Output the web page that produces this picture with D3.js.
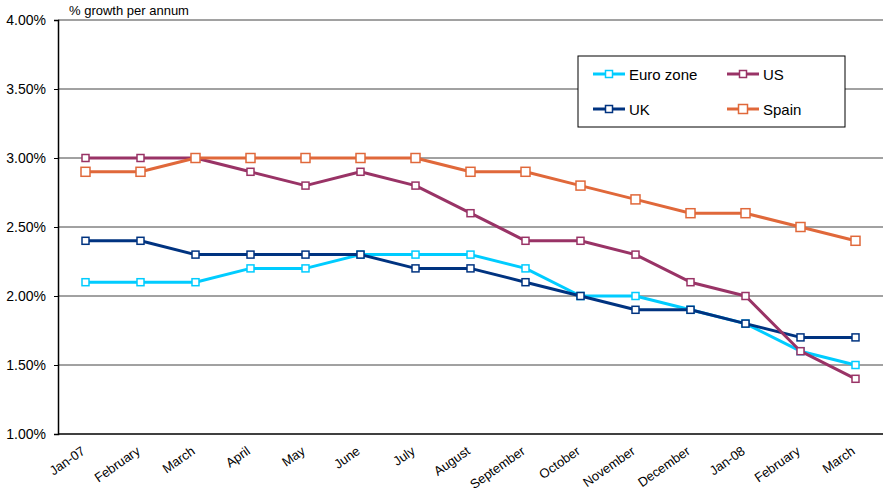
<!DOCTYPE html>
<html>
<head>
<meta charset="utf-8">
<script src="https://cdn.jsdelivr.net/npm/d3@7"></script>
<style>
  html, body { margin: 0; padding: 0; background: #fff; }
  svg { display: block; font-family: "Liberation Sans", Arial, sans-serif; }
</style>
</head>
<body>
<svg id="chart" width="883" height="498"></svg>
<script>
// Inflation, % growth per annum, Jan-07 to March 2008
const months = ["Jan-07", "February", "March", "April", "May", "June", "July", "August",
  "September", "October", "November", "December", "Jan-08", "February ", "March "];
const euroZone = [2.1, 2.1, 2.1, 2.2, 2.2, 2.3, 2.3, 2.3, 2.2, 2.0, 2.0, 1.9, 1.8, 1.6, 1.5];
const uk       = [2.4, 2.4, 2.3, 2.3, 2.3, 2.3, 2.2, 2.2, 2.1, 2.0, 1.9, 1.9, 1.8, 1.7, 1.7];
const us       = [3.0, 3.0, 3.0, 2.9, 2.8, 2.9, 2.8, 2.6, 2.4, 2.4, 2.3, 2.1, 2.0, 1.6, 1.4];
const spain    = [2.9, 2.9, 3.0, 3.0, 3.0, 3.0, 3.0, 2.9, 2.9, 2.8, 2.7, 2.6, 2.6, 2.5, 2.4];
const yTicks = [1.0, 1.5, 2.0, 2.5, 3.0, 3.5, 4.0];

const series = [
  { name: "Euro zone", values: euroZone, color: "#00CCFF", marker: 7 },
  { name: "UK",        values: uk,       color: "#003380", marker: 7 },
  { name: "US",        values: us,       color: "#993366", marker: 7 },
  { name: "Spain",     values: spain,    color: "#E0683A", marker: 9 }
];

const svg = d3.select("#chart");
const plotLeft = 58, plotRight = 883, plotTop = 20, plotBottom = 434;

const x = d3.scalePoint().domain(months).range([plotLeft, plotRight]).padding(0.5);
const y = d3.scaleLinear().domain([1.0, 4.0]).range([plotBottom, plotTop]);

// horizontal gridlines
svg.append("g")
  .selectAll("line")
  .data(yTicks.filter(t => t > 1.0))
  .join("line")
  .attr("x1", plotLeft).attr("x2", plotRight)
  .attr("y1", d => y(d)).attr("y2", d => y(d))
  .attr("stroke", "#444").attr("stroke-width", 1);

// y axis
const yAxis = svg.append("g")
  .attr("transform", `translate(${plotLeft},0)`)
  .call(d3.axisLeft(y).tickValues(yTicks).tickFormat(d => d.toFixed(2) + "%").tickSize(4).tickPadding(8));
yAxis.select(".domain").attr("stroke", "#000").attr("stroke-width", 1.5);
yAxis.selectAll("line").attr("stroke", "#000");
yAxis.selectAll("text").attr("font-size", 14).attr("fill", "#000")
  .attr("font-family", "Liberation Sans, Arial, sans-serif");

// x axis
const xAxis = svg.append("g")
  .attr("transform", `translate(0,${plotBottom})`)
  .call(d3.axisBottom(x).tickSize(0).tickPadding(0));
xAxis.select(".domain").attr("d", `M${plotLeft},0H${plotRight}`).attr("stroke", "#000").attr("stroke-width", 1.5);
xAxis.selectAll("text")
  .attr("font-size", 13).attr("fill", "#000")
  .attr("font-family", "Liberation Sans, Arial, sans-serif")
  .attr("text-anchor", "end")
  .attr("dy", null).attr("y", null)
  .attr("transform", "translate(0,19) rotate(-35)");

// axis title
svg.append("text")
  .attr("x", 69).attr("y", 15)
  .attr("font-size", 13).attr("fill", "#000")
  .text("% growth per annum");

// series lines and markers
const line = d3.line().x((d, i) => x(months[i])).y(d => y(d));
series.forEach(s => {
  const g = svg.append("g");
  g.append("path")
    .attr("d", line(s.values))
    .attr("fill", "none").attr("stroke", s.color).attr("stroke-width", 3)
    .attr("stroke-linejoin", "round");
  g.selectAll("rect")
    .data(s.values)
    .join("rect")
    .attr("x", (d, i) => x(months[i]) - s.marker / 2)
    .attr("y", d => y(d) - s.marker / 2)
    .attr("width", s.marker).attr("height", s.marker)
    .attr("fill", "#fff").attr("stroke", s.color).attr("stroke-width", 1.5);
});

// legend
const legend = svg.append("g");
legend.append("rect")
  .attr("x", 578).attr("y", 56).attr("width", 267).attr("height", 71)
  .attr("fill", "#fff").attr("stroke", "#000").attr("stroke-width", 1);
const legendItems = [
  { s: series[0], lx: 593, ly: 74 },
  { s: series[2], lx: 727, ly: 74 },
  { s: series[1], lx: 593, ly: 109 },
  { s: series[3], lx: 727, ly: 109 }
];
legendItems.forEach(({ s, lx, ly }) => {
  legend.append("line")
    .attr("x1", lx).attr("x2", lx + 32).attr("y1", ly).attr("y2", ly)
    .attr("stroke", s.color).attr("stroke-width", 3);
  legend.append("rect")
    .attr("x", lx + 16 - s.marker / 2).attr("y", ly - s.marker / 2)
    .attr("width", s.marker).attr("height", s.marker)
    .attr("fill", "#fff").attr("stroke", s.color).attr("stroke-width", 1.5);
  legend.append("text")
    .attr("x", lx + 36).attr("y", ly + 5.5)
    .attr("font-size", 15).attr("fill", "#000")
    .text(s.name);
});
</script>
</body>
</html>
